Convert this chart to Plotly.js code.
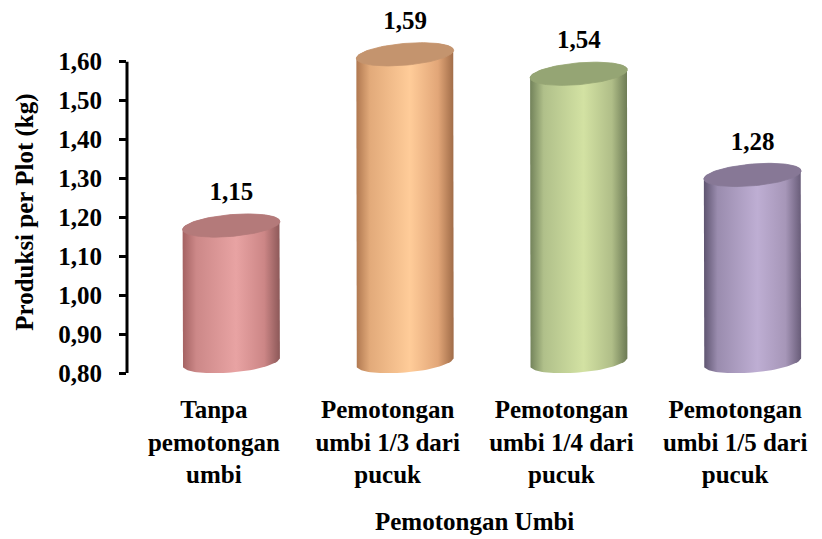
<!DOCTYPE html>
<html>
<head>
<meta charset="utf-8">
<script src="https://cdn.plot.ly/plotly-3.0.1.min.js"></script>
<style>
  html, body { margin: 0; padding: 0; background: #ffffff; }
  #chart { width: 822px; height: 539px; }
</style>
</head>
<body>
<div id="chart"></div>
<script>
// Produksi per plot (kg) for each tuber-cutting treatment
const categories = [
  'Tanpa<br>pemotongan<br>umbi',
  'Pemotongan<br>umbi 1/3 dari<br>pucuk',
  'Pemotongan<br>umbi 1/4 dari<br>pucuk',
  'Pemotongan<br>umbi 1/5 dari<br>pucuk'
];
const produksi = [1.15, 1.59, 1.54, 1.28];
const yTicks = [0.80, 0.90, 1.00, 1.10, 1.20, 1.30, 1.40, 1.50, 1.60];
const yTitle = 'Produksi per Plot (kg)';
const xTitle = 'Pemotongan Umbi';

// side shading of each cylinder (left edge -> highlight -> right edge) and its top face
const sideShades = [
  ['#a46262', '#cc8888', '#e8a3a3', '#cc8686', '#8c5858'],
  ['#b07850', '#e2aa7a', '#ffcc99', '#e2a678', '#a06c48'],
  ['#72825a', '#b0c08a', '#d3e2a3', '#b0be88', '#6c7a54'],
  ['#5e5470', '#9a8cae', '#beaed3', '#a696b8', '#685c78']
];
const topFaces = ['#b47a7a', '#c4946e', '#95a574', '#877896'];

// cylinder geometry in axis units
const BASE = 0.80;      // floor of the value axis
const DEPTH_X = 0.10;   // sideways shift from the 3-D depth
const HALF_W = 0.28;    // half width of a cylinder
const RY = 0.028;       // vertical radius of the elliptical faces
const LIFT = 0.029;     // faces sit slightly above their value
const SKEW = 0.037;     // tilt of the faces (y per x unit)

const SERIF = '"Liberation Serif", "Times New Roman", Times, serif';

function facePoint(cx, cy, phi) {
  const c = Math.cos(phi), s = Math.sin(phi);
  return [cx + HALF_W * c, cy + RY * s + SKEW * HALF_W * c];
}

const traces = [];
const N = 48;

produksi.forEach((v, i) => {
  const cx = i + DEPTH_X;
  const top = v + LIFT;
  const bot = BASE + LIFT;

  // body: left edge, front arc of the floor, right edge, back arc of the top
  const bx = [], by = [];
  let p = facePoint(cx, top, Math.PI); bx.push(p[0]); by.push(p[1]);
  for (let k = 0; k <= N; k++) {
    p = facePoint(cx, bot, Math.PI + Math.PI * k / N);
    bx.push(p[0]); by.push(p[1]);
  }
  for (let k = 0; k <= N; k++) {
    p = facePoint(cx, top, Math.PI * k / N);
    bx.push(p[0]); by.push(p[1]);
  }
  const sh = sideShades[i];
  traces.push({
    type: 'scatter', mode: 'lines', x: bx, y: by,
    fill: 'toself', line: { width: 0, color: sh[2] },
    fillgradient: {
      type: 'horizontal',
      colorscale: [[0, sh[0]], [0.14, sh[1]], [0.55, sh[2]], [0.84, sh[3]], [1, sh[4]]]
    },
    hoverinfo: 'skip', showlegend: false
  });

  // top face
  const tx = [], ty = [];
  for (let k = 0; k <= 2 * N; k++) {
    p = facePoint(cx, top, 2 * Math.PI * k / (2 * N));
    tx.push(p[0]); ty.push(p[1]);
  }
  traces.push({
    type: 'scatter', mode: 'lines', x: tx, y: ty,
    fill: 'toself', fillcolor: topFaces[i],
    line: { width: 0.8, color: topFaces[i] },
    hoverinfo: 'skip', showlegend: false
  });
});

// value labels above each cylinder
traces.push({
  type: 'scatter', mode: 'text',
  x: produksi.map((v, i) => i + DEPTH_X),
  y: produksi.map(v => v + 0.11),
  text: produksi.map(v => v.toFixed(2).replace('.', ',')),
  textposition: 'middle center',
  textfont: { family: SERIF, size: 25, weight: 700, color: '#000000' },
  cliponaxis: false, hoverinfo: 'skip', showlegend: false
});

const fontB = { family: SERIF, size: 25, weight: 700, color: '#000000' };

const layout = {
  width: 822, height: 539,
  margin: { l: 127, r: 0, t: 15, b: 166 },
  paper_bgcolor: '#ffffff', plot_bgcolor: '#ffffff',
  separators: ',.',
  showlegend: false,
  xaxis: {
    range: [-0.5, 3.5], fixedrange: true,
    tickmode: 'array', tickvals: categories.map((c, i) => i), ticktext: categories,
    ticks: '', showgrid: false, zeroline: false, showline: false,
    tickfont: fontB, ticklabelstandoff: 19
  },
  xaxis2: {
    overlaying: 'x', anchor: 'y', side: 'bottom',
    range: [-0.5, 3.5], fixedrange: true,
    tickmode: 'array', tickvals: [-0.5, 0.5, 1.5, 2.5],
    ticks: 'outside', ticklen: 7, tickwidth: 3, tickcolor: '#000000',
    showticklabels: false, showgrid: false, zeroline: false,
    showline: true, linewidth: 3, linecolor: '#000000'
  },
  yaxis: {
    range: [0.8, 1.72], fixedrange: true,
    tickmode: 'array', tickvals: yTicks, tickformat: '.2f',
    ticks: 'outside', ticklen: 7, tickwidth: 3, tickcolor: '#000000',
    showgrid: false, zeroline: false, showline: false,
    tickfont: fontB, ticklabelstandoff: 12
  },
  shapes: [{
    type: 'line', xref: 'paper', yref: 'y',
    x0: 0, x1: 0, y0: yTicks[0], y1: yTicks[yTicks.length - 1],
    line: { color: '#000000', width: 3 }, layer: 'above'
  }],
  annotations: [
    {
      text: yTitle, textangle: -90, xref: 'paper', yref: 'paper',
      x: -0.147, y: 0.45, xanchor: 'center', yanchor: 'middle', showarrow: false,
      font: { family: SERIF, size: 25, weight: 700, color: '#000000' }
    },
    {
      text: xTitle, xref: 'paper', yref: 'paper',
      x: 0.5, y: -0.416, xanchor: 'center', yanchor: 'middle', showarrow: false,
      font: { family: SERIF, size: 25, weight: 700, color: '#000000' }
    }
  ]
};

Plotly.newPlot('chart', traces, layout, { displayModeBar: false, staticPlot: true });
</script>
</body>
</html>
